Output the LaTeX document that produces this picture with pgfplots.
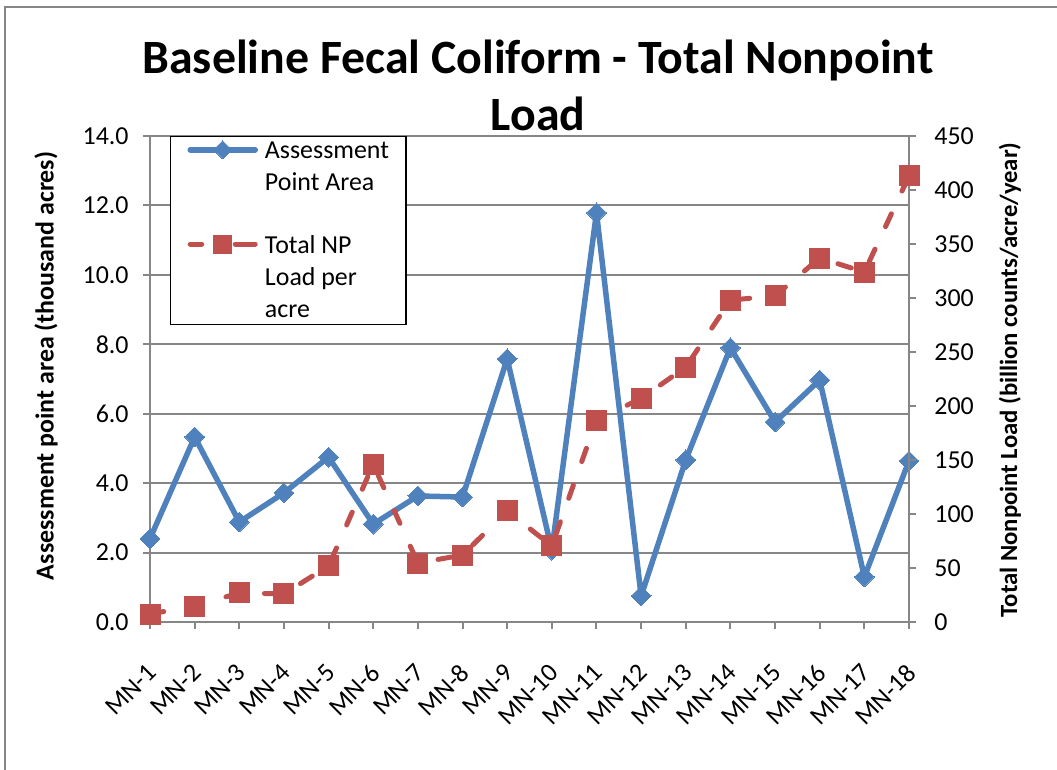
\documentclass[border=0pt]{standalone}
\usepackage{fontspec}
\setmainfont{Carlito}
\usepackage{pgfplots}
\pgfplotsset{compat=1.18}
\definecolor{xblue}{HTML}{4F81BD}
\definecolor{xred}{HTML}{C0504D}
\definecolor{xgray}{HTML}{868686}
\begin{document}
\begin{tikzpicture}
\path[use as bounding box] (0,0) rectangle (528.5bp,385bp);
\draw[xgray, line width=1bp] (2.5bp,0) -- (2.5bp,381.5bp) -- (528.5bp,381.5bp);
\node[font=\fontsize{24}{28}\selectfont\bfseries, anchor=base] at (269bp,348bp) {Baseline Fecal Coliform - Total Nonpoint};
\node[font=\fontsize{24}{28}\selectfont\bfseries, anchor=base] at (269bp,319.5bp) {Load};
\pgfplotsset{
  mybase/.style={
    at={(75bp,74bp)}, anchor=south west,
    width=379.5bp, height=243bp, scale only axis,
    xmin=1, xmax=18,
    /pgf/number format/assume math mode=true,
    tick label style={font=\fontsize{13}{15.6}\selectfont},
    axis line style={xgray, line width=1bp, -},
    tick style={xgray, line width=1bp},
    major tick length=3.5bp, tick align=outside,
  }
}
\begin{axis}[mybase,
  ymin=0, ymax=14, ytick={0,2,...,14},
  xtick={1,...,18},
  xticklabels={MN-1,MN-2,MN-3,MN-4,MN-5,MN-6,MN-7,MN-8,MN-9,MN-10,MN-11,MN-12,MN-13,MN-14,MN-15,MN-16,MN-17,MN-18},
  axis x line*=bottom, axis y line*=left,
  ymajorgrids, grid style={xgray, line width=1bp},
  yticklabel style={/pgf/number format/.cd, fixed, fixed zerofill, precision=1, /tikz/.cd, anchor=east, inner sep=0pt, xshift=-7bp},
  xticklabel style={yshift=-16.5bp, xshift=-2bp, rotate=45, anchor=north east, inner sep=0pt},
  every axis y label/.style={at={(axis description cs:-0.137,0.527)}, rotate=90, anchor=center, font=\fontsize{13}{15}\selectfont\bfseries},
  ylabel={Assessment point area (thousand acres)},
]
\addplot[xblue, line width=2.75bp, line join=round, mark=square*, mark size=3.5bp, mark options={rotate=45, fill=xblue, draw=xblue, line width=0pt}]
coordinates {(1,2.40) (2,5.33) (3,2.88) (4,3.72) (5,4.75) (6,2.82) (7,3.63) (8,3.60) (9,7.58) (10,2.07) (11,11.79) (12,0.75) (13,4.67) (14,7.90) (15,5.76) (16,6.97) (17,1.30) (18,4.64)};
\end{axis}
\begin{axis}[mybase,
  ymin=0, ymax=450, ytick={0,50,...,450},
  axis x line=none, axis y line*=right,
  yticklabel style={anchor=west, inner sep=0pt, xshift=9bp},
  every axis y label/.style={at={(axis description cs:1.133,0.498)}, rotate=90, anchor=center, font=\fontsize{12.4}{15}\selectfont\bfseries},
  ylabel={Total Nonpoint Load (billion counts/acre/year)},
  legend image code/.code={\draw[#1, mark repeat=2, mark phase=2] plot coordinates {(1.25bp,-4.5bp) (17.5bp,-4.5bp) (33.75bp,-4.5bp)};},
  legend style={at={(0.026,1)}, anchor=north west, draw=black, line width=0.75bp, fill=white,
    font=\fontsize{13}{16}\selectfont, inner xsep=8.5bp, inner ysep=2bp,
    nodes={inner sep=0pt}, column sep=3.5bp, row sep=21bp, cells={anchor=north west, align=left}},
]
\addplot[forget plot, xred, line width=2.5bp, line cap=round, dash pattern=on 7bp off 12.5bp, mark=square*, mark size=5bp, mark options={solid, fill=xred, draw=xred, line width=0pt}]
coordinates {(1,7.4) (2,14.8) (3,26.9) (4,26.0) (5,51.9) (6,146) (7,54.6) (8,62.0) (9,102.8) (10,70.4) (11,187) (12,207) (13,236) (14,298) (15,302) (16,337) (17,324) (18,413)};
\addlegendimage{xblue, line width=2.75bp, line cap=round, mark=square*, mark size=3.2bp, mark options={rotate=45, fill=xblue, draw=xblue, line width=0pt}}
\addlegendentry{Assessment\\Point Area}
\addlegendimage{xred, line width=2.5bp, line cap=round, dash pattern=on 5.75bp off 16.75bp on 10bp off 1bp, mark=square*, mark size=4.5bp, mark options={solid, fill=xred, draw=xred, line width=0pt}}
\addlegendentry{Total NP\\Load per\\acre}
\end{axis}
\end{tikzpicture}
\end{document}
